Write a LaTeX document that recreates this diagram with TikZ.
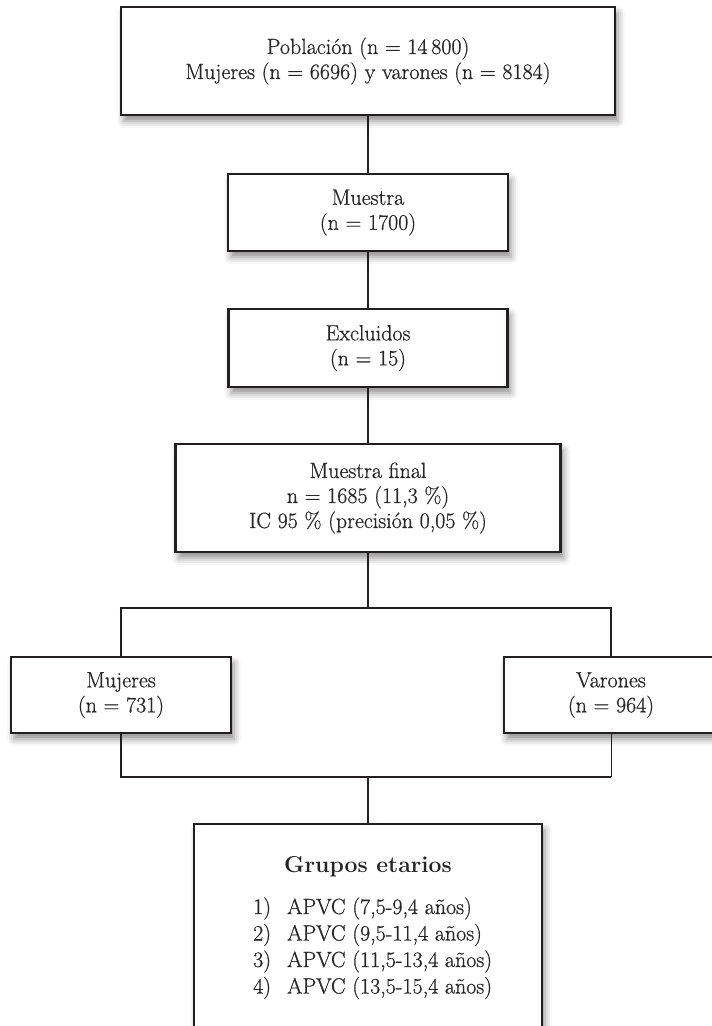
\documentclass[tikz,border=0pt]{standalone}
\usepackage{fontspec}
\setmainfont{Latin Modern Roman}[UprightFeatures={FakeBold=0.7}]
\usetikzlibrary{shadows.blur}
\definecolor{ink}{HTML}{231F20}
\definecolor{txt}{HTML}{262626}
\begin{document}
\begin{tikzpicture}[x=1pt,y=-1pt,
  box/.style={draw=ink, line width=2.8pt, fill=white, align=center, text=txt,
    font=\fontsize{22}{25}\selectfont, inner sep=0pt,
    blur shadow={shadow xshift=3pt, shadow yshift=-6pt, shadow blur radius=7pt, shadow opacity=45}},
  conn/.style={draw=ink, line width=2.6pt, line join=miter},
  thinconn/.style={draw=ink, line width=1pt},
  listtxt/.style={anchor=base west, inner sep=0pt, text=txt, font=\fontsize{22}{26}\selectfont}]
\useasboundingbox (0,0) rectangle (712,1026);

\node[box, minimum width=494pt, minimum height=108pt] (pop) at (368,61)
  {Población (n = 14\,800)\\Mujeres (n = 6696) y varones (n = 8184)};
\node[box, minimum width=280pt, minimum height=77pt] (mue) at (368,212.5)
  {Muestra\\(n = 1700)};
\node[box, minimum width=279pt, minimum height=78pt] (exc) at (368,348)
  {Excluidos\\(n = 15)};
\node[box, minimum width=385pt, minimum height=108pt] (fin) at (368,498)
  {Muestra final\\n = 1685 (11,3 \%)\\IC 95 \% (precisión 0,05 \%)};
\node[box, minimum width=220pt, minimum height=76pt] (muj) at (121,695)
  {Mujeres\\(n = 731)};
\node[box, minimum width=214pt, minimum height=76pt] (var) at (611,695)
  {Varones\\(n = 964)};
\node[box, minimum width=348pt, minimum height=236pt] (grp) at (368,942) {};

\node[anchor=base, inner sep=0pt, text=txt, font=\fontsize{23}{26}\selectfont\bfseries] (tit) at (368,872) {Grupos etarios};
\node[listtxt] (n1) at (253,914) {1)};
\node[listtxt] (a1) at (287,914) {APVC (7,5-9,4 años)};
\node[listtxt] (n2) at (253,940.5) {2)};
\node[listtxt] (a2) at (287,940.5) {APVC (9,5-11,4 años)};
\node[listtxt] (n3) at (253,967) {3)};
\node[listtxt] (a3) at (287,967) {APVC (11,5-13,4 años)};
\node[listtxt] (n4) at (253,993.5) {4)};
\node[listtxt] (a4) at (287,993.5) {APVC (13,5-15,4 años)};

\coordinate (split) at (368,608);
\coordinate (join) at (368,777);
\draw[conn] (pop.south) -- (mue.north);
\draw[conn] (mue.south) -- (exc.north);
\draw[conn] (exc.south) -- (fin.north);
\draw[conn] (fin.south) -- (split);
\draw[conn] (muj.north) |- (split) -| (var.north);
\draw[conn] (muj.south) |- (join) -- (join -| var.south);
\draw[thinconn] (var.south) -- (join -| var.south);
\draw[conn] (join) -- (grp.north);
\end{tikzpicture}
\end{document}
